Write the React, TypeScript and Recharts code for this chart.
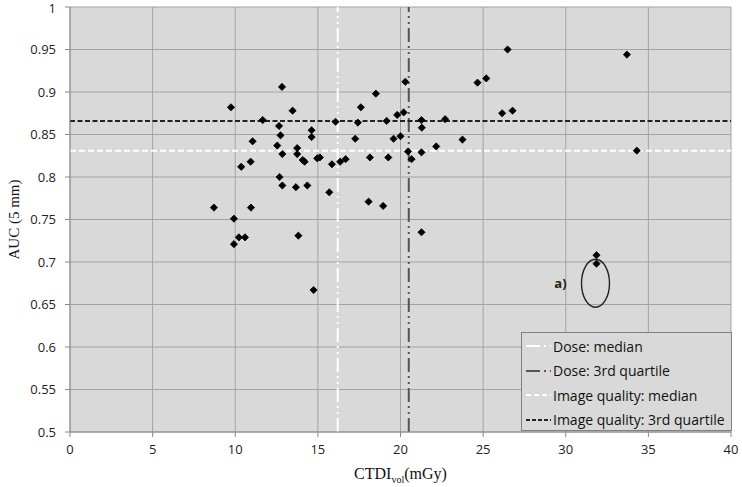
import React from "react";
import {
  ScatterChart,
  Scatter,
  XAxis,
  YAxis,
  CartesianGrid,
  ReferenceLine,
  ReferenceDot,
} from "recharts";

// CTDIvol (mGy) of each scan
const ctdi = [
  8.71, 9.74, 9.92, 9.92, 10.22, 10.59, 10.36, 10.93, 10.95, 11.05, 11.66,
  12.54, 12.65, 12.74, 12.83, 12.85, 12.68, 12.85, 13.47, 13.75, 13.75, 13.67,
  13.82, 14.08, 14.2, 14.36, 14.62, 14.62, 14.74, 14.96, 15.12, 15.69, 15.85,
  16.07, 16.35, 16.68, 17.26, 17.42, 17.6, 18.07, 18.15, 18.51, 18.95, 19.16,
  19.26, 19.58, 19.8, 20.0, 20.19, 20.29, 20.45, 20.67, 21.27, 21.29, 21.27,
  21.27, 22.16, 22.7, 23.75, 24.66, 25.19, 26.15, 26.78, 26.48, 31.86, 31.86,
  33.7, 34.3,
];
// AUC (5 mm) of each scan
const auc = [
  0.764, 0.882, 0.751, 0.721, 0.729, 0.729, 0.812, 0.818, 0.764, 0.842, 0.867,
  0.837, 0.86, 0.849, 0.906, 0.827, 0.8, 0.79, 0.878, 0.834, 0.827, 0.788,
  0.731, 0.82, 0.818, 0.79, 0.855, 0.847, 0.667, 0.822, 0.823, 0.782, 0.815,
  0.865, 0.818, 0.821, 0.845, 0.864, 0.882, 0.771, 0.823, 0.898, 0.766, 0.866,
  0.823, 0.845, 0.873, 0.848, 0.876, 0.912, 0.83, 0.821, 0.867, 0.858, 0.829,
  0.735, 0.836, 0.868, 0.844, 0.911, 0.916, 0.875, 0.878, 0.95, 0.708, 0.698,
  0.944, 0.831,
];

const xTicks = [0, 5, 10, 15, 20, 25, 30, 35, 40];
const yTicks = [0.5, 0.55, 0.6, 0.65, 0.7, 0.75, 0.8, 0.85, 0.9, 0.95, 1];

const doseMedian = 16.2;
const doseQ3 = 20.5;
const iqMedian = 0.831;
const iqQ3 = 0.866;

// outlier group annotation "a)"
const groupA = { x: 31.8, y: 0.675, label: "a)" };

const legendItems = [
  { name: "Dose: median", color: "#ffffff", dash: "14 4 2 4" },
  { name: "Dose: 3rd quartile", color: "#555555", dash: "14 4 2 4" },
  { name: "Image quality: median", color: "#ffffff", dash: "5 3" },
  { name: "Image quality: 3rd quartile", color: "#222222", dash: "4 2" },
];

const data = ctdi.map((x, i) => ({ x, y: auc[i] }));

const SANS = "'Open Sans', 'Noto Sans', sans-serif";
const SERIF = "'Liberation Serif', 'DejaVu Serif', serif";

const Diamond = (props: any) => {
  const { cx, cy } = props;
  const r = 3.6;
  return (
    <polygon
      points={`${cx},${cy - r} ${cx + r},${cy} ${cx},${cy + r} ${cx - r},${cy}`}
      fill="#000"
      stroke="#000"
      strokeWidth={0.8}
      strokeLinejoin="round"
    />
  );
};

const GroupShape = (props: any) => {
  const { cx, cy } = props;
  return (
    <g>
      <ellipse cx={cx} cy={cy} rx={14} ry={24} fill="none" stroke="#222" strokeWidth={1.4} />
      <text
        x={cx - 35}
        y={cy}
        dy="0.35em"
        textAnchor="middle"
        fontFamily={SANS}
        fontWeight="bold"
        fontSize={13}
        fill="#222"
      >
        {groupA.label}
      </text>
    </g>
  );
};

const XTitle = (props: any) => {
  const { viewBox } = props;
  const cx = viewBox.x + viewBox.width / 2;
  const y = viewBox.y + 47;
  return (
    <text x={cx} y={y} textAnchor="middle" fontFamily={SERIF} fontSize={16} fill="#111">
      CTDI
      <tspan dy={4} fontSize={10}>
        vol
      </tspan>
      <tspan dy={-4}>(mGy)</tspan>
    </text>
  );
};

export default function App() {
  return (
    <div style={{ position: "relative", width: 742, height: 487, background: "#fff" }}>
      <style>{`body{margin:0;}`}</style>
      <ScatterChart
        width={742}
        height={487}
        margin={{ top: 7, right: 11, left: 0, bottom: 0 }}
      >
        <CartesianGrid stroke="#a3a3a3" strokeWidth={1} fill="#d9d9d9" fillOpacity={1} />
        <XAxis
          type="number"
          dataKey="x"
          domain={[0, 40]}
          ticks={xTicks}
          height={55}
          tickSize={5}
          tickMargin={8}
          stroke="#8a8a8a"
          tick={{ fill: "#222", fontFamily: SANS, fontSize: 13 }}
          label={<XTitle />}
        />
        <YAxis
          type="number"
          dataKey="y"
          domain={[0.5, 1]}
          ticks={yTicks}
          width={70}
          tickSize={5}
          tickMargin={9}
          stroke="#8a8a8a"
          tick={{ fill: "#222", fontFamily: SANS, fontSize: 13 }}
          label={{
            value: "AUC (5 mm)",
            angle: -90,
            position: "insideLeft",
            offset: 14,
            style: { fontFamily: SERIF, fontSize: 15, fill: "#111", textAnchor: "middle" },
          }}
        />
        <ReferenceLine x={doseMedian} stroke="#ffffff" strokeWidth={2} strokeDasharray="14 4 2 4 2 4" />
        <ReferenceLine x={doseQ3} stroke="#555555" strokeWidth={2} strokeDasharray="14 4 2 4 2 4" />
        <ReferenceLine y={iqMedian} stroke="#ffffff" strokeWidth={2} strokeDasharray="6 3" />
        <ReferenceLine y={iqQ3} stroke="#222222" strokeWidth={2} strokeDasharray="5 2.5" />
        <ReferenceDot x={groupA.x} y={groupA.y} shape={<GroupShape />} />
        <Scatter data={data} shape={<Diamond />} isAnimationActive={false} />
      </ScatterChart>
      <div
        style={{
          position: "absolute",
          left: 521,
          top: 332,
          width: 211,
          height: 99,
          boxSizing: "border-box",
          background: "#d9d9d9",
          border: "1px solid #808080",
          fontFamily: SANS,
          fontSize: 14,
          color: "#111",
          paddingTop: 1,
        }}
      >
        {legendItems.map((it) => (
          <div key={it.name} style={{ display: "flex", alignItems: "center", height: 24.5 }}>
            <svg width={28} height={10} style={{ marginLeft: 3 }}>
              <line
                x1={1}
                y1={5}
                x2={26}
                y2={5}
                stroke={it.color}
                strokeWidth={2}
                strokeDasharray={it.dash}
              />
            </svg>
            <span style={{ whiteSpace: "nowrap" }}>{it.name}</span>
          </div>
        ))}
      </div>
    </div>
  );
}
